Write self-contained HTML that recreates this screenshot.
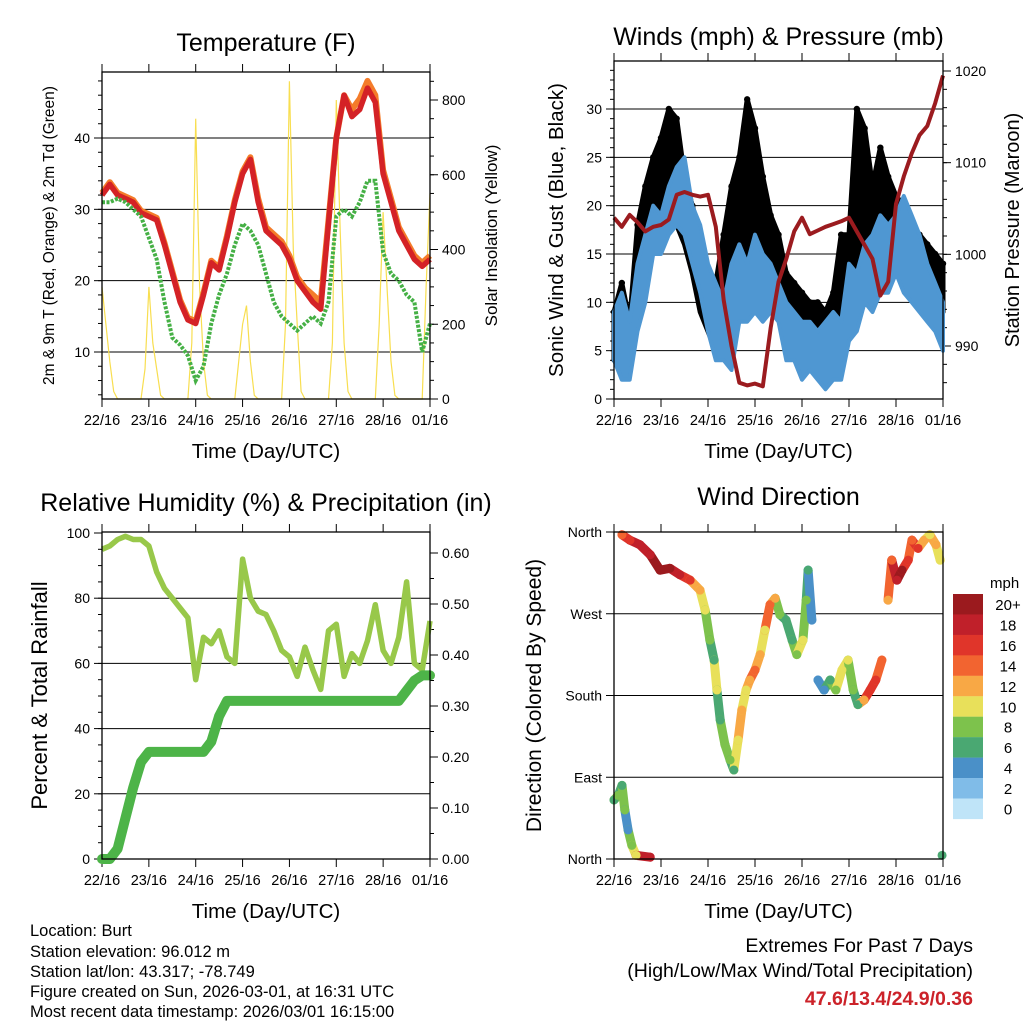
<!DOCTYPE html>
<html><head><meta charset="utf-8">
<style>
html,body{margin:0;padding:0;background:#fff;}
svg{display:block;font-family:"Liberation Sans",sans-serif;}
</style></head>
<body>
<svg id="chart" width="1024" height="1024" viewBox="0 0 1024 1024" xmlns="http://www.w3.org/2000/svg">
<g id="p1"></g>
<g id="p2"></g>
<g id="p3"></g>
<g id="p4"></g>
<g id="info" font-size="16.5" fill="#000">
<text x="30" y="936">Location: Burt</text>
<text x="30" y="957">Station elevation: 96.012 m</text>
<text x="30" y="977">Station lat/lon: 43.317; -78.749</text>
<text x="30" y="997">Figure created on Sun, 2026-03-01, at 16:31 UTC</text>
<text x="30" y="1017">Most recent data timestamp: 2026/03/01 16:15:00</text>
</g>
<g text-anchor="end" font-size="19.5">
<text x="973" y="952">Extremes For Past 7 Days</text>
<text x="973" y="977">(High/Low/Max Wind/Total Precipitation)</text>
<text x="973" y="1005" fill="#cc2229" font-weight="bold">47.6/13.4/24.9/0.36</text>
</g>
</svg>
<script>
// ---------- data (4-hour steps from 22/16 UTC) ----------
const dayLabels = ["22/16","23/16","24/16","25/16","26/16","27/16","28/16","01/16"];
const temp2m = [32,33.5,32,31.5,31,29.5,29,28.5,25,21,17,14.5,14,18,22.5,21.5,26,31,35,37,31,27,26,25,23,20,18.5,17,16,28,40,46,43,44,47,45,35,31,27,25,23,22,23];
const temp9m = [32.3,33.8,32.3,31.8,31.3,29.8,29.3,28.8,25.3,21.3,17.3,14.8,14.3,18.3,22.8,21.8,26.3,31.3,35.3,37.3,31.5,27.5,26.5,25.5,23.5,20.5,19,18,17,28.5,40,46,44,45.5,48,46,35.5,31.5,27.5,25.5,23.5,22.5,23.5];
const dewpoint = [31,31,31.5,31,30,29,26,23,17,12,11,9.5,6,8,14,18,21,25,28,27,25,21,17,15,14,13,14,15,14,17,29,30,29,31,34,34,24,21,20,18,17,10,14];
// solar insolation, 2-hour steps
const solar = [300,200,100,20,0,0,0,0,0,0,0,80, 300,150,80,10,0,0,0,0,0,0,0,150, 750,300,100,10,0,0,0,0,0,0,0,100, 200,250,100,10,0,0,0,0,0,0,0,200, 850,400,200,20,0,0,0,0,0,0,0,150, 800,450,150,20,0,0,0,0,0,0,0,200, 500,300,100,10,0,0,0,0,0,0,0,300, 550];
const pressure = [1004,1003,1004.3,1003.5,1002.5,1003,1003.2,1003.8,1006.5,1006.8,1006.5,1006.3,1006.5,1003,995,990,986,985.7,985.9,985.6,992,997,999.5,1002.5,1004,1002.2,1002.6,1003,1003.3,1003.6,1004,1002.5,1001,999.5,995.5,997,1005.5,1008.5,1011,1013,1014,1016.5,1019.5];
const windMax = [9,11,8,14,17,20,19,22,24,25,20,18,14,12,10,14,16,14,17,15,14,12,10,9,8,8,7,8,9,8,14,13,16,17,19,18,19,21,19,17,14,12,10];
const windMin = [4,2,2,7,10,15,15,17,18,17,14,11,7,4,4,3,8,8,9,8,9,8,4,4,2,3,2,1,2,2,6,7,10,9,11,11,13,11,10,9,8,7,5];
const gustMax = [9,12,8,18,22,25,27,30,29,23,20,17,13,12,17,22,25,31,28,23,19,17,13,12,11,10,10,9,11,17,17,30,28,22,26,23,21,20,18,17,16,15,14];
const gustMin = [4,5,3,8,13,17,19,20,18,16,13,9,7,5,8,13,13,15,14,13,12,10,8,6,5,5,4,3,3,8,10,13,16,15,15,14,14,13,11,10,10,9,9];
const humidity = [95,96,98,99,98,98,96,88,83,80,77,74,55,68,66,70,62,60,92,80,76,75,70,64,62,56,65,58,52,70,72,56,63,60,67,78,64,60,68,85,60,58,73];
const rainfall = [0,0,0.02,0.08,0.14,0.19,0.21,0.21,0.21,0.21,0.21,0.21,0.21,0.21,0.23,0.28,0.31,0.31,0.31,0.31,0.31,0.31,0.31,0.31,0.31,0.31,0.31,0.31,0.31,0.31,0.31,0.31,0.31,0.31,0.31,0.31,0.31,0.31,0.31,0.33,0.35,0.36,0.36];
// wind direction observations (days since 22/16, degrees, mph)
const dirDay = [0.00,0.09,0.17,0.23,0.30,0.38,0.47,0.77, 0.17,0.34,0.55,0.77,0.98,1.19,1.40,1.62,1.83,1.94,2.04,2.13,2.19,2.26,2.36,2.47,2.55,2.64,2.72,2.81,2.89,3.00,3.11,3.21,3.32,3.43,3.53,3.66,3.79,3.89,4.02,4.09,4.13,4.21,4.34,4.47,4.60,4.72,4.85,4.98,5.09,5.19,5.32,5.45,5.57,5.70,5.83,5.91,6.02,6.13,6.26,6.34,6.47,6.60,6.72,6.85,6.94,6.98];
const dirDeg = [65,70,81,54,32,15,4,2, 357,351,346,335,318,320,313,307,296,274,241,219,186,153,126,109,98,131,164,186,197,208,225,252,280,287,269,263,241,225,241,285,318,263,197,186,197,186,208,219,186,170,175,186,197,219,285,329,307,318,329,351,342,351,357,346,329,4];
const dirSpd = [6,8,6,8,4,8,10,18, 14,16,18,18,20,20,18,16,12,10,8,6,10,6,8,8,6,10,12,10,12,14,12,10,14,12,8,6,6,8,10,8,6,4,4,4,6,8,10,10,8,6,12,16,16,14,12,14,18,20,16,14,16,12,10,12,10,6];
const speedLabels = ["20+","18","16","14","12","10","8","6","4","2","0"];
const speedColors = ["#9b1a1e","#c0202a","#e0352a","#f26430","#f8a845","#e8e05a","#7dc24c","#4aa872","#4a90c8","#80bce8","#bfe4f8"];

// ---------- helpers ----------
const NS="http://www.w3.org/2000/svg";
function mk(parent,tag,attrs,text){const e=document.createElementNS(NS,tag);for(const k in attrs)e.setAttribute(k,attrs[k]);if(text!==undefined)e.textContent=text;parent.appendChild(e);return e;}
function scale(d0,d1,r0,r1){return v=>r0+(v-d0)*(r1-r0)/(d1-d0);}

function frame(g,P,title,titleY,yl,yr){
  const xs=scale(0,7,P.x0,P.x1);
  for(let d=0;d<=7;d++){
    const x=xs(d);
    const t1=mk(g,'line',{x1:x,x2:x,y1:P.y1,y2:P.y1+8,stroke:'#000','stroke-width':1});
    
    
    const t2=mk(g,'line',{x1:x,x2:x,y1:P.y0,y2:P.y0-8,stroke:'#000','stroke-width':1});
    
    
    const lb=mk(g,'text',{x:x,y:P.y1+26,'text-anchor':'middle','font-size':14.5},dayLabels[d]);
    
    
  }
  const xt=mk(g,'text',{x:(P.x0+P.x1)/2,y:P.y1+59,'text-anchor':'middle','font-size':20.5},'Time (Day/UTC)');
  
  
  const tt=mk(g,'text',{x:(P.x0+P.x1)/2,y:titleY,'text-anchor':'middle','font-size':25},title);
  
  
  const a=mk(g,'text',{transform:`translate(${yl.x},${(P.y0+P.y1)/2}) rotate(-90)`,'text-anchor':'middle','font-size':yl.fs},yl.t);
  
  
  if(yr){const b=mk(g,'text',{transform:`translate(${yr.x},${(P.y0+P.y1)/2}) rotate(-90)`,'text-anchor':'middle','font-size':yr.fs},yr.t);
  
  }
  return xs;
}
function box(g,P){const r=mk(g,'rect',{x:P.x0,y:P.y0,width:P.x1-P.x0,height:P.y1-P.y0,fill:'none',stroke:'#000','stroke-width':1.3});

}
function yTicks(g,P,ys,vals,side,labels,grid,minor){
  vals.forEach((v,i)=>{
    const y=ys(v);
    if(grid){const gl=mk(g,'line',{x1:P.x0,x2:P.x1,y1:y,y2:y,stroke:'#000','stroke-width':1});
    
    }
    const x=side==='l'?P.x0:P.x1, dx=side==='l'?-8:8;
    const t=mk(g,'line',{x1:x,x2:x+dx,y1:y,y2:y,stroke:'#000'});
    
    
    const lb=mk(g,'text',{x:side==='l'?x-12:x+12,y:y+5,'text-anchor':side==='l'?'end':'start','font-size':14},labels[i]);
    
    
  });
  if(minor){minor.forEach(v=>{const y=ys(v);if(y<P.y0||y>P.y1)return;const x=side==='l'?P.x0:P.x1;
    const m=mk(g,'line',{x1:x,x2:x+(side==='l'?-4:4),y1:y,y2:y,stroke:'#000'});
    
    });}
}
function pathOf(arr,xs,ys,step){return arr.map((v,i)=>(i?'L':'M')+xs(i*step).toFixed(1)+','+ys(v).toFixed(1)).join('');}
function rng(a,b,s){const r=[];for(let v=a;v<=b+1e-9;v+=s)r.push(+v.toFixed(3));return r;}

// ---------- Panel 1: temperature ----------
(function(){
  const g=document.getElementById('p1');
  const P={x0:102,x1:430,y0:72,y1:399};
  const xs=frame(g,P,'Temperature (F)',51,{t:'2m & 9m T (Red, Orange) & 2m Td (Green)',x:54,fs:15.5},{t:'Solar Insolation (Yellow)',x:497,fs:17});
  const ys=scale(10,40,352,138), ys2=scale(0,800,399,100);
  yTicks(g,P,ys,[10,20,30,40],'l',['10','20','30','40'],true,rng(4,48,2));
  yTicks(g,P,ys2,[0,200,400,600,800],'r',['0','200','400','600','800'],false,rng(0,860,50));
  const st=1/6;
  const s=mk(g,'path',{d:pathOf(solar,xs,ys2,1/12),fill:'none',stroke:'#f8de50','stroke-width':1.2});
  
  
  const o=mk(g,'path',{d:pathOf(temp9m,xs,ys,st),fill:'none',stroke:'#f47c2a','stroke-width':6,'stroke-linejoin':'round'});
  
  
  const r=mk(g,'path',{d:pathOf(temp2m,xs,ys,st),fill:'none',stroke:'#d42226','stroke-width':5.5,'stroke-linejoin':'round'});
  
  
  const d=mk(g,'path',{d:pathOf(dewpoint,xs,ys,st),fill:'none',stroke:'#45b045','stroke-width':4,'stroke-dasharray':'3 1.5'});
  
  
  box(g,P);
})();

// ---------- Panel 2: winds & pressure ----------
(function(){
  const g=document.getElementById('p2');
  const P={x0:614,x1:943,y0:61,y1:399};
  const xs=frame(g,P,'Winds (mph) & Pressure (mb)',45,{t:'Sonic Wind & Gust (Blue, Black)',x:563,fs:20.5},{t:'Station Pressure (Maroon)',x:1019,fs:20});
  const ys=scale(0,30,399,109), ys2=scale(990,1020,346,71);
  yTicks(g,P,ys,[0,5,10,15,20,25,30],'l',['0','5','10','15','20','25','30'],true,rng(0,34,1));
  yTicks(g,P,ys2,[990,1000,1010,1020],'r',['990','1000','1010','1020'],false,rng(986,1020,2));
  const st=1/6;
  function band(maxA,minA,color,name,w){
    let d='M'+maxA.map((v,i)=>xs(i*st).toFixed(1)+','+ys(v).toFixed(1)).join('L');
    d+='L'+minA.map((v,i)=>[i,v]).reverse().map(([i,v])=>xs(i*st).toFixed(1)+','+ys(v).toFixed(1)).join('L')+'Z';
    const p=mk(g,'path',{d:d,fill:color,stroke:color,'stroke-width':w,'stroke-linejoin':'round'});
    
    
  }
  band(gustMax,gustMin,'#000','gust-band',5);
  gustMax.forEach((v,i)=>{
    const c=mk(g,'circle',{cx:xs(i*st),cy:ys(v),r:3.2,fill:'#000'});
    
    
  });
  band(windMax,windMin,'#4f97d2','sonic-wind-band',4);
  const pr=mk(g,'path',{d:pathOf(pressure,xs,ys2,st),fill:'none',stroke:'#9b1b1f','stroke-width':4,'stroke-linejoin':'round'});
  
  
  box(g,P);
})();

// ---------- Panel 3: humidity & precip ----------
(function(){
  const g=document.getElementById('p3');
  const P={x0:102,x1:430,y0:532,y1:859};
  const xs=frame(g,P,'Relative Humidity (%) & Precipitation (in)',511,{t:'Percent & Total Rainfall',x:47,fs:22},null);
  const ys=scale(0,100,859,533), ys2=scale(0,0.6,859,553);
  yTicks(g,P,ys,[20,40,60,80],'l',['20','40','60','80'],true,null);
  yTicks(g,P,ys,[0,100],'l',['0','100'],false,rng(0,100,5));
  yTicks(g,P,ys2,[0,0.1,0.2,0.3,0.4,0.5,0.6],'r',['0.00','0.10','0.20','0.30','0.40','0.50','0.60'],false,rng(0,0.64,0.05));
  const st=1/6;
  const h=mk(g,'path',{d:pathOf(humidity,xs,ys,st),fill:'none',stroke:'#98c84a','stroke-width':5.5,'stroke-linejoin':'round'});
  
  
  const r=mk(g,'path',{d:pathOf(rainfall,xs,ys2,st),fill:'none',stroke:'#4db448','stroke-width':10,'stroke-linejoin':'round','stroke-linecap':'round'});
  
  
  box(g,P);
})();

// ---------- Panel 4: wind direction ----------
(function(){
  const g=document.getElementById('p4');
  const P={x0:614,x1:943,y0:532,y1:859};
  const xs=frame(g,P,'Wind Direction',505,{t:'Direction (Colored By Speed)',x:541,fs:21},null);
  const ys=scale(0,360,859,532);
  yTicks(g,P,ys,[90,180,270],'l',['East','South','West'],true,null);
  yTicks(g,P,ys,[0,360],'l',['North','North'],false,null);
  function col(s){let idx=10-Math.floor(Math.min(s,20)/2);return speedColors[Math.max(0,Math.min(10,idx))];}
  for(let i=1;i<dirDay.length;i++){
    if(Math.abs(dirDeg[i]-dirDeg[i-1])>60||dirDay[i]<dirDay[i-1])continue;
    const l=mk(g,'line',{x1:xs(dirDay[i-1]),y1:ys(dirDeg[i-1]),x2:xs(dirDay[i]),y2:ys(dirDeg[i]),stroke:col(dirSpd[i]),'stroke-width':9,'stroke-linecap':'round'});
    
    
  }
  dirDay.forEach((d,i)=>{
    const c=mk(g,'circle',{cx:xs(d),cy:ys(dirDeg[i]),r:4.5,fill:col(dirSpd[i])});
    
    
  });
  box(g,P);
  const cb=mk(g,'g',{});
  
  
  const u=mk(cb,'text',{x:990,y:588,'font-size':15},'mph');
  
  
  speedLabels.forEach((lab,i)=>{
    const y=594+i*20.45;
    const rc=mk(cb,'rect',{x:953,y:y,width:30,height:20.6,fill:speedColors[i]});
    
    
    const t=mk(cb,'text',{x:1008,y:y+16,'text-anchor':'middle','font-size':15},lab);
    
    
  });
})();
</script>
</body></html>
